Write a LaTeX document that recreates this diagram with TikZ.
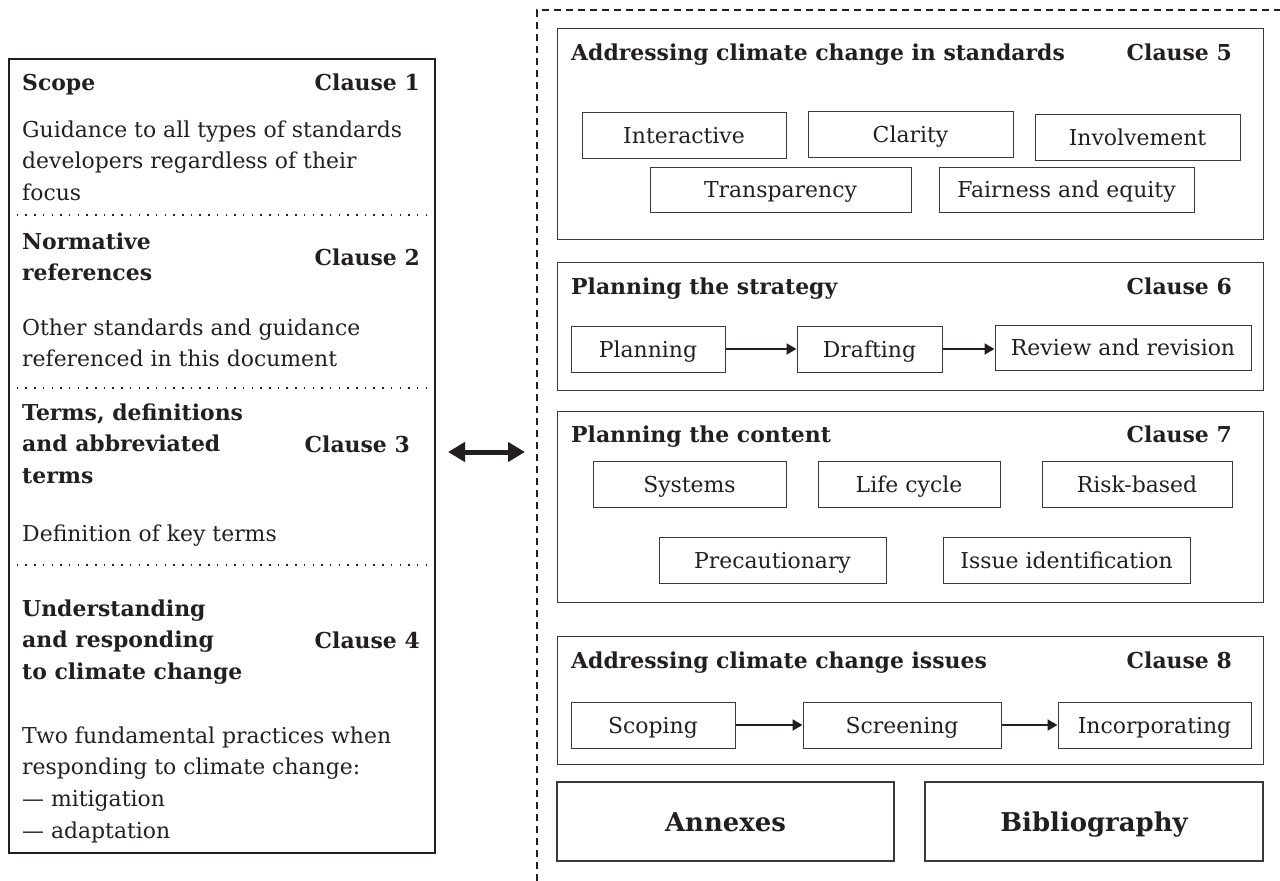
\documentclass[tikz,border=0pt]{standalone}
\usepackage{fontspec}
\setmainfont{DejaVu Serif}
\usetikzlibrary{arrows.meta}
\definecolor{ink}{HTML}{231F20}
\definecolor{frame}{HTML}{3A3A3A}
\begin{document}
\begin{tikzpicture}[x=1bp,y=-1bp,
  every node/.style={text=ink},
  body/.style={font=\fontsize{22}{31.7}\selectfont, inner sep=0, anchor=base west, align=left},
  head/.style={font=\fontsize{22}{31.7}\selectfont\bfseries, inner sep=0, anchor=base west, align=left},
  clause/.style={font=\fontsize{22}{31.7}\selectfont\bfseries, inner sep=0, anchor=base east},
  panel/.style={draw=frame, line width=1.3bp, inner sep=0, anchor=north west},
  item/.style={draw=frame, line width=1bp, inner sep=0, font=\fontsize{22}{26}\selectfont, text height=16.5bp, text depth=0bp},
  bigitem/.style={draw=frame, line width=1.3bp, inner sep=0, font=\fontsize{26}{30}\selectfont\bfseries, text height=20.5bp, text depth=0bp},
  flow/.style={-{Triangle[length=10bp,width=11bp]}, line width=2bp, draw=ink},
  dbl/.style={{Triangle[length=17bp,width=19bp]}-{Triangle[length=17bp,width=19bp]}, line width=5bp, draw=ink},
  dotsep/.style={draw=ink, line width=1.5bp, dash pattern=on 1.5bp off 7.2bp},
  dashsep/.style={draw=ink, line width=1.3bp, dash pattern=on 7bp off 5bp},
]
\useasboundingbox (0,0) rectangle (1280,881);

% left column
\node (Lbox) [draw=ink, line width=2bp, inner sep=0, anchor=north west, minimum width=426bp, minimum height=794bp] at (8,58) {};
\draw[dotsep] (Lbox.west |- 0,215) -- (Lbox.east |- 0,215);
\draw[dotsep] (Lbox.west |- 0,388) -- (Lbox.east |- 0,388);
\draw[dotsep] (Lbox.west |- 0,565) -- (Lbox.east |- 0,565);

% multi-line nodes: base anchor = baseline of the last line
\node[head] (scope) at (22,90) {Scope};
\node[clause] (c1) at (420,90) {Clause 1};
\node[body] (scopetxt) at (22,200.4) {Guidance to all types of standards\\developers regardless of their\\focus};
\node[head] (norm) at (22,280.7) {Normative\\references};
\node[clause] (c2) at (420,265) {Clause 2};
\node[body] (normtxt) at (22,366.7) {Other standards and guidance\\referenced in this document};
\node[head] (terms) at (22,483.4) {Terms, definitions\\and abbreviated\\terms};
\node[clause] (c3) at (410,452) {Clause 3};
\node[body] (termstxt) at (22,541) {Definition of key terms};
\node[head] (und) at (22,679.4) {Understanding\\and responding\\to climate change};
\node[clause] (c4) at (420,648) {Clause 4};
\node[body] (undtxt) at (22,838.1) {Two fundamental practices when\\responding to climate change:\\— mitigation\\— adaptation};

% dashed region
\coordinate (dashedge) at (537,452);
\draw[dashsep] (537,881) -- (537,10) -- (1280,10);
\draw[dbl, shorten <=12bp, shorten >=12bp] (Lbox.east |- dashedge) -- (dashedge);

% clause 5
\node (p5) [panel, minimum width=706bp, minimum height=211bp] at (557,28) {};
\node[head] (t5) at (571,60) {Addressing climate change in standards};
\node[clause] (c5) at (1232,60) {Clause 5};
\node[item, minimum width=204bp, minimum height=46bp] (interactive) at (684,135) {Interactive};
\node[item, minimum width=205bp, minimum height=46bp] (clarity) at (910.5,134) {Clarity};
\node[item, minimum width=205bp, minimum height=46bp] (involvement) at (1137.5,137) {Involvement};
\node[item, minimum width=261bp, minimum height=45bp] (transparency) at (780.5,189.5) {Transparency};
\node[item, minimum width=255bp, minimum height=45bp] (fairness) at (1066.5,189.5) {Fairness and equity};

% clause 6
\node (p6) [panel, minimum width=706bp, minimum height=128bp] at (557,262) {};
\node[head] (t6) at (571,294) {Planning the strategy};
\node[clause] (c6) at (1232,294) {Clause 6};
\node[item, minimum width=154bp, minimum height=46bp] (planning) at (648,349) {Planning};
\node[item, minimum width=145bp, minimum height=46bp] (drafting) at (869.5,349) {Drafting};
\node[item, minimum width=256bp, minimum height=45bp] (review) at (1123,347.5) {Review and revision};
\draw[flow] (planning) -- (drafting);
\draw[flow] (drafting.east) -- (drafting.east -| review.west);

% clause 7
\node (p7) [panel, minimum width=706bp, minimum height=191bp] at (557,411) {};
\node[head] (t7) at (571,442) {Planning the content};
\node[clause] (c7) at (1232,442) {Clause 7};
\node[item, minimum width=193bp, minimum height=46bp] (systems) at (689.5,484) {Systems};
\node[item, minimum width=182bp, minimum height=46bp] (lifecycle) at (909,484) {Life cycle};
\node[item, minimum width=190bp, minimum height=46bp] (risk) at (1137,484) {Risk-based};
\node[item, minimum width=227bp, minimum height=46bp] (precaution) at (772.5,560) {Precautionary};
\node[item, minimum width=247bp, minimum height=46bp] (issue) at (1066.5,560) {Issue identification};

% clause 8
\node (p8) [panel, minimum width=706bp, minimum height=128bp] at (557,636) {};
\node[head] (t8) at (571,668) {Addressing climate change issues};
\node[clause] (c8) at (1232,668) {Clause 8};
\node[item, minimum width=164bp, minimum height=46bp] (scoping) at (653,725) {Scoping};
\node[item, minimum width=198bp, minimum height=46bp] (screening) at (902,725) {Screening};
\node[item, minimum width=193bp, minimum height=46bp] (incorporating) at (1154.5,725) {Incorporating};
\draw[flow] (scoping) -- (screening);
\draw[flow] (screening) -- (incorporating);

% annexes / bibliography
\node[bigitem, minimum width=337bp, minimum height=79bp] (annexes) at (725.5,821.5) {Annexes};
\node[bigitem, minimum width=338bp, minimum height=79bp] (biblio) at (1094,821.5) {Bibliography};
\end{tikzpicture}
\end{document}
